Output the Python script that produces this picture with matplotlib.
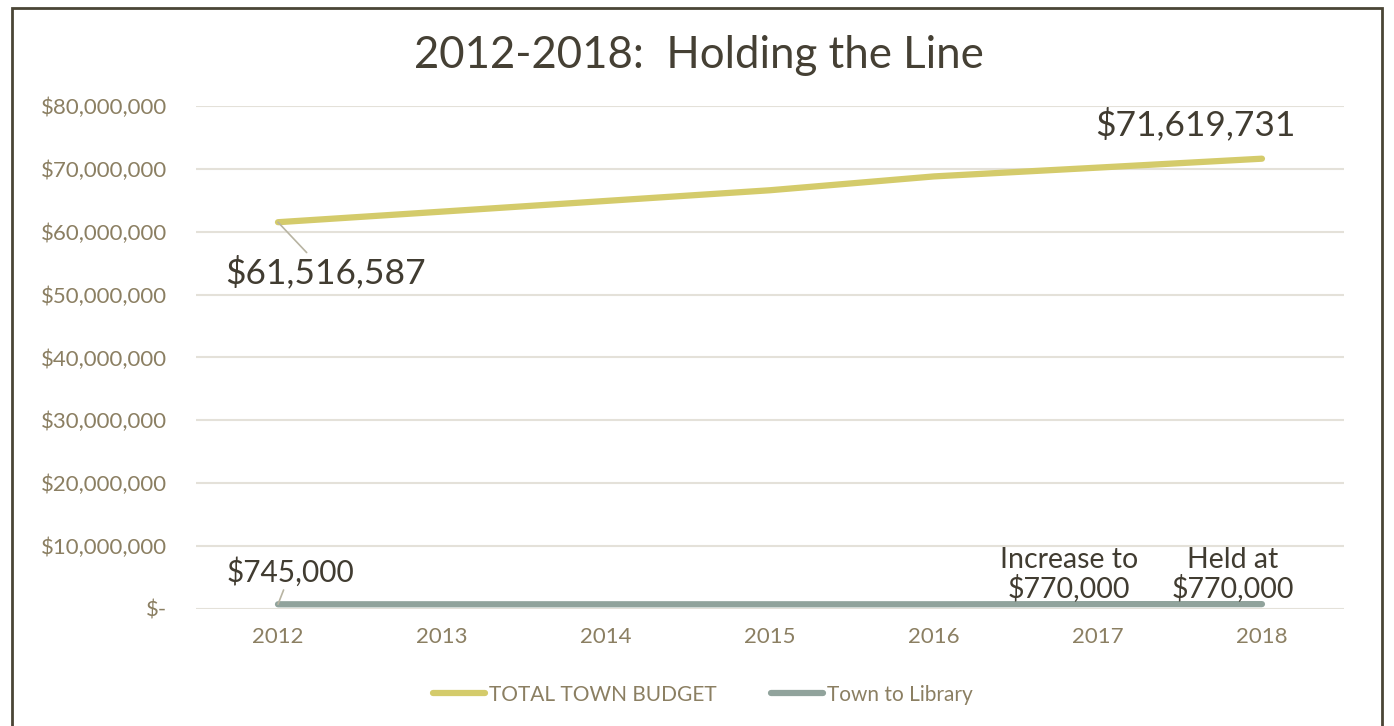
import numpy as np
import matplotlib
matplotlib.use('Agg')
import matplotlib.pyplot as plt
from matplotlib.patches import Rectangle
from matplotlib.ticker import FuncFormatter

plt.rcParams['font.family'] = ['Lato', 'DejaVu Sans']

# data
years = ['2012', '2013', '2014', '2015', '2016', '2017', '2018']
town_budget = [61516587, 63200000, 64900000, 66600000, 68800000, 70200000, 71619731]
town_to_library = [745000, 745000, 745000, 745000, 745000, 770000, 770000]

c_budget = '#d4cb6b'
c_library = '#91a39c'
c_tick = '#8b7f62'
c_text = '#413c31'
c_grid = '#e4e1d9'

fig = plt.figure(figsize=(13.94, 7.26), dpi=100)
ax = fig.add_axes([0.1406, 0.1612, 0.8235, 0.6928])

x = np.arange(len(years))
ax.plot(x, town_budget, color=c_budget, lw=4.5, solid_capstyle='round', label='TOTAL TOWN BUDGET', zorder=3)
ax.plot(x, town_to_library, color=c_library, lw=4.5, solid_capstyle='round', label='Town to Library', zorder=3)

ax.set_xlim(-0.5, len(years) - 0.5)
ax.set_ylim(0, 80000000)
ax.set_yticks(np.arange(0, 80000001, 10000000))
ax.yaxis.set_major_formatter(FuncFormatter(lambda v, p: '$-' if v == 0 else '${:,.0f}'.format(v)))
ax.set_xticks(x)
ax.set_xticklabels(years)
ax.grid(axis='y', color=c_grid, lw=1.5)
ax.set_axisbelow(True)
for s in ax.spines.values():
    s.set_visible(False)
ax.tick_params(axis='both', length=0, colors=c_tick, labelsize=16)
ax.tick_params(axis='y', pad=21)
ax.tick_params(axis='x', pad=13)

# data labels
lead = dict(arrowstyle='-', color='#b8b4a2', lw=1.2, shrinkA=0, shrinkB=0)
ax.annotate('$61,516,587', xy=(0, town_budget[0]), xytext=(34, -36), textcoords='offset points',
            ha='center', va='center', fontsize=25.5, color=c_text, arrowprops=lead)
ax.annotate('$71,619,731', xy=(6, town_budget[6]), xytext=(-48, 24.5), textcoords='offset points',
            ha='center', va='center', fontsize=25.5, color=c_text)
ax.annotate('$745,000', xy=(0, town_to_library[0]), xytext=(9, 23), textcoords='offset points',
            ha='center', va='center', fontsize=21.5, color=c_text, arrowprops=lead)
ax.annotate('Increase to\n$770,000', xy=(5, town_to_library[5]), xytext=(-21, 21.6), textcoords='offset points',
            ha='center', va='center', fontsize=20.5, color=c_text, linespacing=1.05)
ax.annotate('Held at\n$770,000', xy=(6, town_to_library[6]), xytext=(-21, 21.6), textcoords='offset points',
            ha='center', va='center', fontsize=20.5, color=c_text, linespacing=1.05)

fig.text(0.5014, 0.923, '2012-2018:  Holding the Line', ha='center', va='center', fontsize=31.5, color='#454034')

fig.legend(loc='center', bbox_to_anchor=(0.504, 0.043), ncol=2, frameon=False, fontsize=15,
           labelcolor=c_tick, handlelength=2.5, handletextpad=0.2, columnspacing=2.6)

# outer frame
fig.patches.append(Rectangle((12 / 1394, -0.05), 1370 / 1394, 1.05 - 8 / 726, transform=fig.transFigure,
                             fill=False, edgecolor='#4a4536', lw=2, zorder=10))

fig.savefig('out.png', dpi=100)
